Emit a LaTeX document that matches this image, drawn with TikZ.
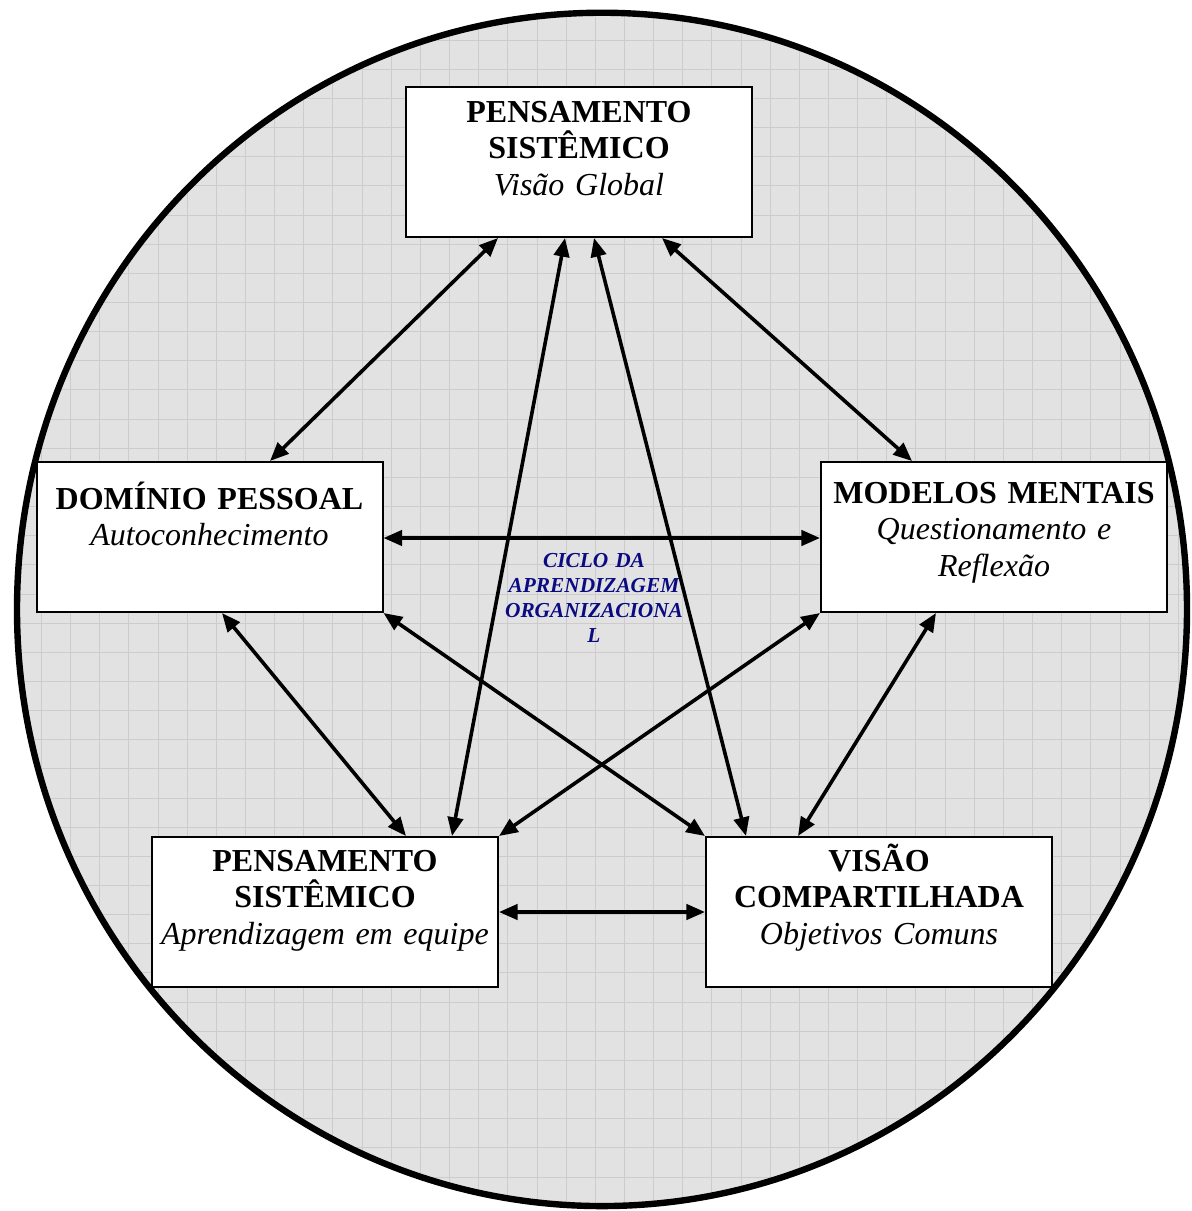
\documentclass[tikz,border=0pt]{standalone}
\usepackage{fontspec}
\setmainfont{Liberation Serif}
\usetikzlibrary{arrows.meta,calc}
\definecolor{bgfill}{RGB}{226,226,226}
\definecolor{gridc}{RGB}{204,204,204}
\definecolor{navyc}{RGB}{10,10,130}
\begin{document}
\begin{tikzpicture}[x=0.75pt,y=-0.75pt,
  box/.style={draw,line width=1.5pt,fill=white,minimum width=259.5pt,minimum height=112.5pt,inner sep=0pt},
  lbl/.style={text width=255pt,align=center,anchor=base,inner sep=0pt,font=\fontsize{24}{27.5}\selectfont},
  link/.style={line width=2.7pt,{Triangle[length=14pt,width=11.5pt]}-{Triangle[length=14pt,width=11.5pt]}}]
\useasboundingbox (0,0) rectangle (1192,1211);
\begin{scope}
  \clip (602,609.4) ellipse [x radius=438.75pt, y radius=447.5pt];
  \fill[bgfill] (0,0) rectangle (1192,1211);
  \foreach \i in {0,...,41} {
    \draw[gridc,line width=0.75pt] (12.3+29.15*\i,0) -- ++(0,1211);
    \draw[gridc,line width=0.75pt] (0,11+29.15*\i) -- ++(1192,0);
  }
\end{scope}
\draw[line width=4.8pt] (602,609.4) ellipse [x radius=438.75pt, y radius=447.5pt];

\node[box] (top) at (579,162) {};
\node[box] (left) at (209.5,537) {};
\node[box] (right) at (994,537) {};
\node[box] (bl) at (325,912) {};
\node[box] (br) at (879,912) {};

\node[lbl] (topT) at (579,122) {\textbf{PENSAMENTO}\\\textbf{SISTÊMICO}\\\textit{Visão Global}};
\node[lbl] (leftT) at (209.5,509) {\textbf{DOMÍNIO PESSOAL}\\\textit{Autoconhecimento}};
\node[lbl] (rightT) at (994,503) {\textbf{MODELOS MENTAIS}\\\textit{Questionamento e}\\\textit{Reflexão}};
\node[lbl] (blT) at (325,871) {\textbf{PENSAMENTO}\\\textbf{SISTÊMICO}\\\textit{Aprendizagem em equipe}};
\node[lbl] (brT) at (879,871) {\textbf{VISÃO}\\\textbf{COMPARTILHADA}\\\textit{Objetivos Comuns}};

\node[font=\fontsize{16}{18.75}\selectfont\bfseries\itshape, text=navyc, align=center, anchor=base, text width=140pt, inner sep=0pt] (ciclo) at (594,567) {CICLO DA\\APRENDIZAGEM\\ORGANIZACIONA\\L};

\draw[link] ($(top.south)+(-81,0)$) -- ($(left.north)+(60.5,0)$);
\draw[link] ($(top.south)+(-14,0)$) -- ($(bl.north)+(127,0)$);
\draw[link] ($(top.south)+(15,0)$) -- ($(br.north)+(-133,0)$);
\draw[link] ($(top.south)+(83,0)$) -- ($(right.north)+(-82,0)$);
\draw[link] ($(left.east)+(0,1)$) -- ($(right.west)+(0,1)$);
\draw[link] ($(left.south)+(12.5,0)$) -- ($(bl.north)+(81,0)$);
\draw[link] (left.south east) -- (br.north west);
\draw[link] (right.south west) -- (bl.north east);
\draw[link] ($(right.south)+(-58,0)$) -- ($(br.north)+(-81,0)$);
\draw[link] (bl.east) -- (br.west);
\end{tikzpicture}
\end{document}
